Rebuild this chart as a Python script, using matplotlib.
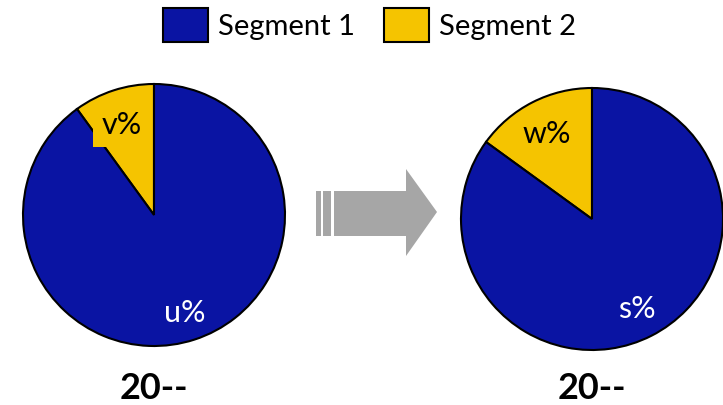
import matplotlib
matplotlib.use("Agg")
import matplotlib.pyplot as plt
from matplotlib.patches import Rectangle, Polygon

# ---- data ----
segments = ["Segment 1", "Segment 2"]
colors = ["#0A14A3", "#F5C400"]
left_values = [90, 10]     # Segment 1, Segment 2
right_values = [85, 15]
left_labels = ["u%", "v%"]
right_labels = ["s%", "w%"]
years = ["20--", "20--"]

plt.rcParams['font.family'] = ['Lato', 'DejaVu Sans']

W, H = 723, 406
fig = plt.figure(figsize=(W / 100, H / 100), dpi=100)
ax = fig.add_axes([0, 0, 1, 1])

def Y(py):
    return H - py

R = 131

def draw_pie(cx, cy, values, labels, lab_pos, year, bbox_small):
    ax.pie([values[1], values[0]], colors=[colors[1], colors[0]],
           startangle=90, counterclock=True, center=(cx, Y(cy)), radius=R,
           wedgeprops=dict(edgecolor='black', linewidth=1.5), frame=True)
    (sx, sy), (vx, vy) = lab_pos
    ax.text(sx, Y(sy), labels[0], color='white', fontsize=22, ha='center', va='center')
    kw = {}
    if bbox_small:
        kw['bbox'] = dict(boxstyle='square,pad=0.3', facecolor=colors[1], edgecolor='none')
    ax.text(vx, Y(vy), labels[1], color='black', fontsize=22, ha='center', va='center', **kw)
    ax.text(cx, Y(389), year, color='black', fontsize=26, fontweight='bold',
            ha='center', va='center')

draw_pie(154, 216, left_values, left_labels, [(185, 313), (122, 125)], years[0], True)
draw_pie(592, 220, right_values, right_labels, [(637, 309), (547, 134)], years[1], False)

ax.set_xlim(0, W)
ax.set_ylim(0, H)
ax.set_aspect('equal')
ax.axis('off')

# ---- arrow ----
gray = "#A6A6A6"
ax.add_patch(Rectangle((316, Y(237)), 5, 45, facecolor=gray, edgecolor='none'))
ax.add_patch(Rectangle((323, Y(237)), 8, 45, facecolor=gray, edgecolor='none'))
ax.add_patch(Polygon([(334, Y(192)), (406, Y(192)), (406, Y(170)), (437, Y(213)),
                      (406, Y(257)), (406, Y(237)), (334, Y(237))],
                     closed=True, facecolor=gray, edgecolor='none'))

# ---- legend ----
leg_x = [163, 384]
for i, name in enumerate(segments):
    ax.add_patch(Rectangle((leg_x[i], Y(43)), 45, 34, facecolor=colors[i],
                           edgecolor='black', linewidth=1.5))
    ax.text(leg_x[i] + 55, Y(27), name, fontsize=21, ha='left', va='center', color='black')

fig.savefig("out.png", dpi=100)
